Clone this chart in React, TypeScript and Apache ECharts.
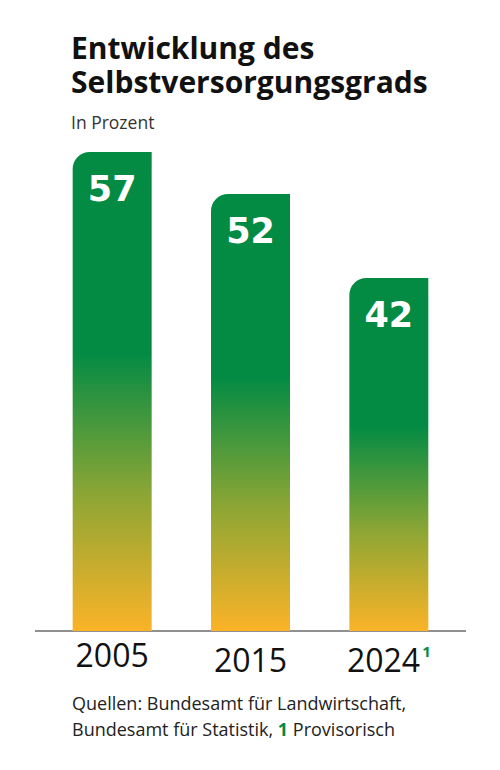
import React, { useEffect, useRef } from 'react';
import * as echarts from 'echarts';

const YEARS = ['2005', '2015', '2024'];
const VALUES = [57, 52, 42];
const FOOTNOTE_YEARS = ['2024'];

const TITLE_LINES = ['Entwicklung des', 'Selbstversorgungsgrads'];
const SUBTITLE = 'In Prozent';
const SOURCE_LINE_1 = 'Quellen: Bundesamt für Landwirtschaft,';
const SOURCE_LINE_2 = 'Bundesamt für Statistik, ';
const NOTE_TEXT = ' Provisorisch';

const GREEN = '#038b44';
const ORANGE = '#fbb328';
const FONT = '"Open Sans", sans-serif';

const App = (): JSX.Element => {
  const divEL = useRef(null);

  useEffect(() => {
    const chartDOM = divEL.current;
    const instance = echarts.init(chartDOM as any, null, { renderer: 'svg' });

    const barGradient = new echarts.graphic.LinearGradient(0, 0, 0, 1, [
      { offset: 0, color: GREEN },
      { offset: 0.42, color: GREEN },
      { offset: 0.72, color: '#8ea634' },
      { offset: 1, color: ORANGE },
    ]);

    const titleStyle = {
      fontFamily: FONT,
      fontWeight: 'bold' as const,
      fontSize: 30,
      lineHeight: 26,
      color: '#111111',
    };

    const option: echarts.EChartsOption = {
      animation: false,
      backgroundColor: '#ffffff',
      title: [
        { text: TITLE_LINES[0], left: 66, top: 29, textStyle: titleStyle },
        { text: TITLE_LINES[1], left: 66, top: 63, textStyle: titleStyle },
        {
          text: SUBTITLE,
          left: 66,
          top: 108,
          textStyle: {
            fontFamily: FONT,
            fontWeight: 'normal',
            fontSize: 17.5,
            color: '#333333',
          },
        },
      ],
      grid: {
        top: 152,
        bottom: 139,
        left: 43,
        right: 42,
      },
      xAxis: {
        type: 'category',
        data: YEARS.map((y, i) => ({
          value: y,
          textStyle: i === 0 ? {} : { padding: [5, 0, 0, 0] },
        })),
        axisLine: { show: false },
        axisTick: { show: false },
        axisLabel: {
          interval: 0,
          hideOverlap: false,
          margin: 7,
          fontFamily: FONT,
          fontSize: 32,
          color: '#111111',
          formatter: (v: string) =>
            FOOTNOTE_YEARS.includes(v) ? `{y|${v}}{s|1}` : `{y|${v}}`,
          rich: {
            y: { fontFamily: FONT, fontSize: 32, color: '#111111' },
            s: {
              fontFamily: FONT,
              fontSize: 15,
              fontWeight: 'bold',
              color: GREEN,
              verticalAlign: 'top',
              padding: [0, 0, 14, 2],
            },
          },
        },
      },
      yAxis: {
        type: 'value',
        min: 0,
        max: 57,
        show: false,
        splitLine: { show: false },
      },
      series: [
        {
          type: 'bar',
          data: VALUES,
          barWidth: 79,
          itemStyle: {
            color: barGradient,
            borderRadius: [17, 0, 0, 0],
          },
          label: {
            show: true,
            position: 'insideTop',
            distance: 19,
            fontFamily: '"DejaVu Sans", sans-serif',
            fontWeight: 'bold',
            fontSize: 35,
            color: '#ffffff',
          },
        },
      ],
      graphic: [
        {
          type: 'line',
          shape: { x1: 35, y1: 631, x2: 466, y2: 631 },
          style: { stroke: '#222222', lineWidth: 1.2 },
        },
        {
          type: 'text',
          left: 72,
          top: 694,
          style: {
            text: SOURCE_LINE_1,
            fontFamily: FONT,
            fontSize: 18,
            fill: '#222222',
          },
        },
        {
          type: 'text',
          left: 72,
          top: 720,
          style: {
            text: `{n|${SOURCE_LINE_2}}{g|1}{n|${NOTE_TEXT}}`,
            rich: {
              n: { fontFamily: FONT, fontSize: 18, fill: '#222222' },
              g: { fontFamily: FONT, fontSize: 18, fontWeight: 'bold', fill: GREEN },
            },
          } as any,
        },
      ],
    };

    instance.setOption(option);

    return () => {
      instance.dispose();
    };
  }, []);

  return (
    <div
      ref={divEL}
      style={{ position: 'fixed', left: 0, top: 0, width: 500, height: 770 }}
    ></div>
  );
};

export default App;
